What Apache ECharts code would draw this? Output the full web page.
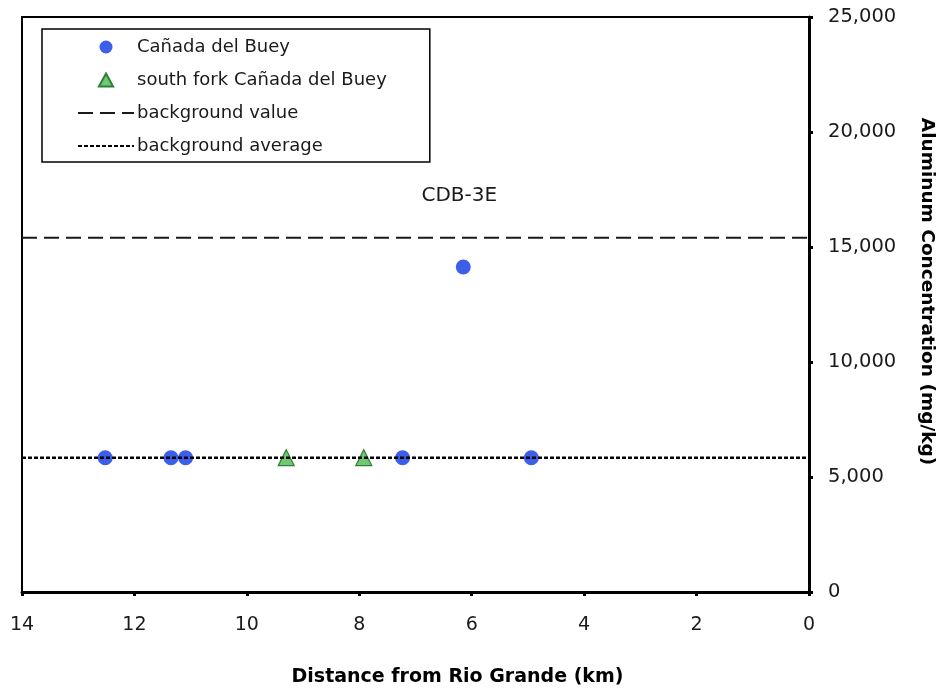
<!DOCTYPE html>
<html>
<head>
<meta charset="utf-8">
<script src="https://cdn.jsdelivr.net/npm/echarts@6/dist/echarts.min.js"></script>
<style>
  html, body { margin: 0; padding: 0; background: #ffffff; }
  #chart { width: 941px; height: 694px; }
</style>
</head>
<body>
<div id="chart"></div>
<script>
// Sample locations along Cañada del Buey (distance upstream from the Rio Grande, km)
const mainStemKm = [12.52, 11.35, 11.09, 7.23, 6.15, 4.94];
const mainStemAl = [5840, 5840, 5840, 5840, 14130, 5840];
const mainStemNames = ['', '', '', '', 'CDB-3E', ''];

// South fork Cañada del Buey samples
const southForkKm = [9.30, 7.92];
const southForkAl = [5840, 5840];

// Reference levels (mg/kg)
const backgroundValue = 15400;
const backgroundAverage = 5840;
const distanceRange = [14, 0];

const xTickStep = 2;
const yTickStep = 5000;

const FONT = '"DejaVu Sans", Verdana, sans-serif';

const chart = echarts.init(document.getElementById('chart'), null, { renderer: 'canvas' });

const TRIANGLE_ICON = 'path://M6,0 L12,11 L0,11 Z';

const option = {
  backgroundColor: '#ffffff',
  animation: false,
  textStyle: { fontFamily: FONT, color: '#1a1a1a' },
  grid: {
    left: 22, right: 132, top: 17, bottom: 102,
    containLabel: false,
    outerBoundsMode: 'none',
    show: true, borderColor: '#000', borderWidth: 2, backgroundColor: 'transparent'
  },
  legend: {
    orient: 'vertical',
    left: 42, top: 29,
    padding: [9, 43, 7, 35],
    itemWidth: 56, itemHeight: 13, itemGap: 15,
    borderColor: '#000', borderWidth: 1.5,
    backgroundColor: '#fff',
    textStyle: { fontFamily: FONT, fontSize: 18, color: '#1a1a1a', padding: [0, 0, 0, -2] },
    data: [
      { name: 'Cañada del Buey', icon: 'circle' },
      { name: 'south fork Cañada del Buey', icon: TRIANGLE_ICON },
      { name: 'background value', itemStyle: { opacity: 0 } },
      { name: 'background average', itemStyle: { opacity: 0 } }
    ]
  },
  xAxis: {
    type: 'value',
    inverse: true,
    min: 0, max: 14, interval: xTickStep,
    position: 'bottom',
    axisLine: { show: true, onZero: false, lineStyle: { color: '#000', width: 3 } },
    axisTick: { show: true, inside: false, length: 4, lineStyle: { color: '#000', width: 3 } },
    splitLine: { show: false },
    axisLabel: { fontFamily: FONT, fontSize: 19, color: '#1a1a1a', margin: 24 },
    name: 'Distance from Rio Grande (km)',
    nameLocation: 'middle',
    nameGap: 76,
    nameTextStyle: { fontFamily: FONT, fontSize: 19, fontWeight: 'bold', color: '#000', padding: [0, 0, 0, 84] }
  },
  yAxis: {
    type: 'value',
    position: 'right',
    min: 0, max: 25000, interval: yTickStep,
    axisLine: { show: true, onZero: false, lineStyle: { color: '#000', width: 3 } },
    axisTick: { show: true, inside: false, length: 4, lineStyle: { color: '#000', width: 3 } },
    splitLine: { show: false },
    axisLabel: {
      fontFamily: FONT, fontSize: 19.5, color: '#1a1a1a', margin: 19,
      formatter: v => v.toLocaleString('en-US')
    },
    name: 'Aluminum Concentration (mg/kg)',
    nameLocation: 'middle',
    nameRotate: -90,
    nameGap: 108,
    nameTextStyle: { fontFamily: FONT, fontSize: 18.5, fontWeight: 'bold', color: '#000', padding: [0, 26, 0, 0] }
  },
  series: [
    {
      name: 'Cañada del Buey',
      type: 'scatter',
      symbol: 'circle',
      symbolSize: 15,
      z: 2,
      itemStyle: { color: '#3c5ee8', opacity: 1 },
      data: mainStemKm.map((d, i) => ({
        value: [d, mainStemAl[i]],
        name: mainStemNames[i],
        label: mainStemNames[i] ? {
          show: true, position: 'top', distance: 54, offset: [-4, 0],
          formatter: '{b}', fontFamily: FONT, fontSize: 20, color: '#1a1a1a'
        } : { show: false }
      }))
    },
    {
      name: 'south fork Cañada del Buey',
      type: 'scatter',
      symbol: 'triangle',
      symbolSize: 16,
      z: 2,
      itemStyle: { color: '#72c872', borderColor: '#2f7f3a', borderWidth: 1.2, opacity: 1 },
      data: southForkKm.map((d, i) => [d, southForkAl[i]])
    },
    {
      name: 'background value',
      type: 'line',
      symbol: 'none',
      z: 3,
      lineStyle: { color: '#1a1a1a', width: 2, type: [15, 7] },
      itemStyle: { color: '#1a1a1a' },
      data: distanceRange.map(d => [d, backgroundValue])
    },
    {
      name: 'background average',
      type: 'line',
      symbol: 'none',
      z: 3,
      lineStyle: { color: '#000', width: 2.5, type: [4, 2] },
      itemStyle: { color: '#000' },
      data: distanceRange.map(d => [d, backgroundAverage])
    }
  ]
};

chart.setOption(option);
</script>
</body>
</html>
